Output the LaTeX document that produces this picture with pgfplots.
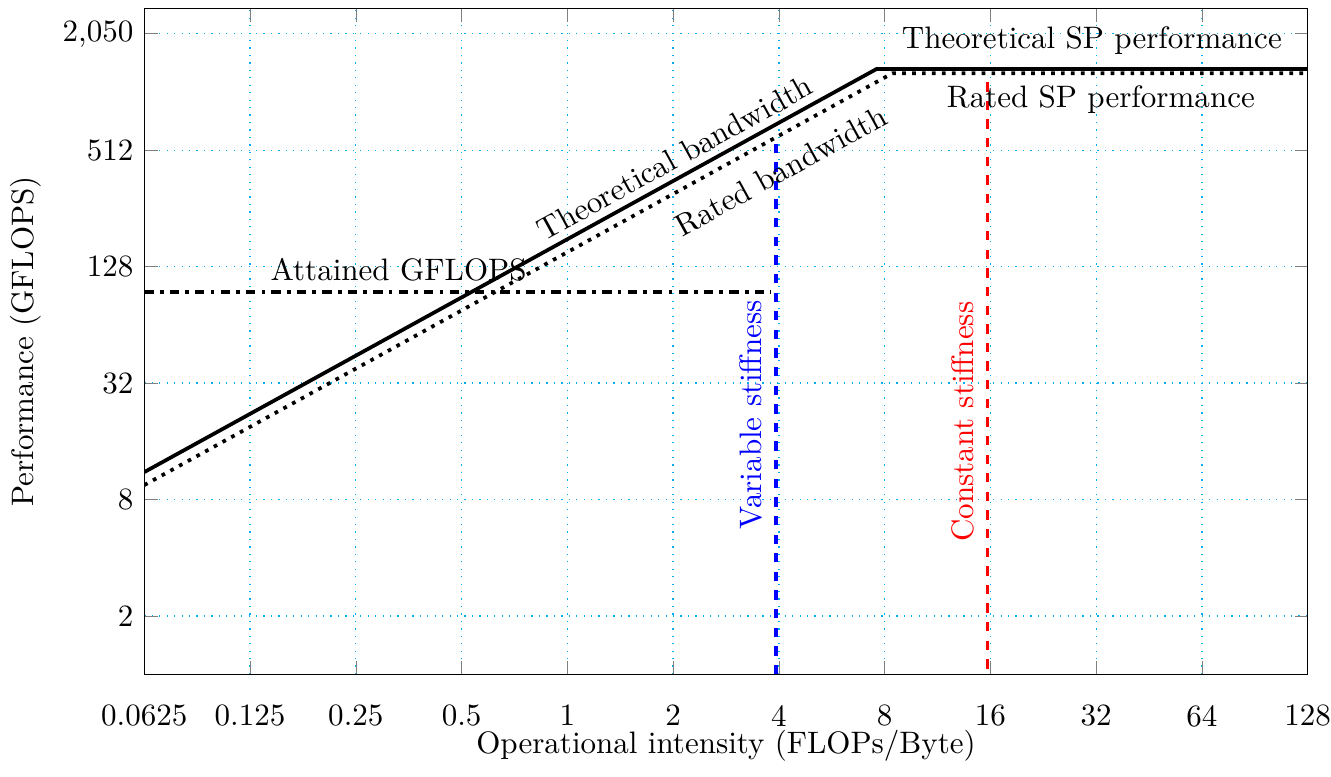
\documentclass[border=0pt]{standalone}
\usepackage{pgfplots}
\pgfplotsset{compat=1.18}
\begin{document}
\begin{tikzpicture}
\begin{axis}[
  scale only axis,
  width=375pt, height=214.5pt,
  xmode=log, ymode=log,
  log basis x=2, log basis y=2,
  xmin=0.0625, xmax=128,
  ymin=1, ymax=2760,
  xtick={0.0625,0.125,0.25,0.5,1,2,4,8,16,32,64,128},
  xticklabels={0.0625,0.125,0.25,0.5,1,2,4,8,16,32,64,128},
  ytick={2,8,32,128,512,2048},
  yticklabels={2,8,32,128,512,{2,050}},
  xticklabel style={yshift=-6.5pt, inner xsep=0pt},
  grid=major,
  grid style={dotted, cyan},
  major tick style={gray},
  xlabel={Operational intensity (FLOPs/Byte)},
  ylabel={Performance (GFLOPS)},
  xlabel style={yshift=5.7pt},
]
% measured application performance
\addplot[black, very thick, dashdotted] coordinates {(0.0625,95) (3.8,95)};
% arithmetic intensity of the two kernels
\addplot[blue, very thick, dashed] coordinates {(3.92,1) (3.92,596)};
\addplot[red, very thick, dashed] coordinates {(15.7,1150) (15.7,1)};
% rooflines
\addplot[black, very thick] coordinates {(0.0625,11.0875) (7.5817,1345) (128,1345)};
\addplot[black, very thick, dotted] coordinates {(0.0625,9.5) (8.421,1280) (128,1280)};

\node[rotate=28.8] at (axis cs:2.02,468) {Theoretical bandwidth};
\node[rotate=28.8] at (axis cs:4.05,400) {Rated bandwidth};
\node at (axis cs:0.331,124) {Attained GFLOPS};
\node at (axis cs:31.1,1884) {Theoretical SP performance};
\node at (axis cs:33.0,933) {Rated SP performance};
\node[rotate=90, text=blue] at (axis cs:3.33,21.9) {Variable stiffness};
\node[rotate=90, text=red] at (axis cs:13.35,20.2) {Constant stiffness};
\end{axis}
% a little white space above and below, as in the reference
\path (current bounding box.north east) ++(0,2.6pt);
\path (current bounding box.south west) ++(0,-1.5pt);
\end{tikzpicture}
\end{document}
